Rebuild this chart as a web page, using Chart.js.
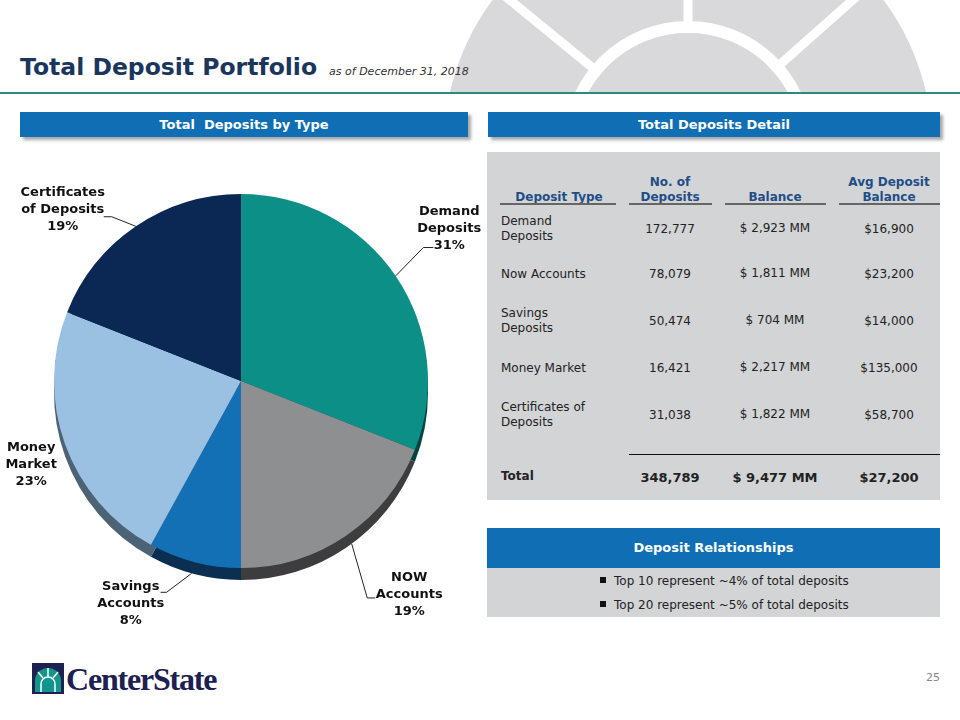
<!DOCTYPE html>
<html>
<head>
<meta charset="utf-8">
<script src="https://cdn.jsdelivr.net/npm/chart.js@4"></script>
<style>
body { margin: 0; background: #fff; font-family: "DejaVu Sans", Verdana, sans-serif; }
#slide { position: relative; width: 960px; height: 720px; overflow: hidden; background: #fff; }
.abs { position: absolute; }
#title { left: 20px; top: 53px; font-size: 23.5px; font-weight: bold; color: #1b365d; white-space: nowrap; }
#title span { font-size: 11px; font-weight: normal; font-style: italic; color: #333; margin-left: 12px; }
#rule { left: 0; top: 92px; width: 960px; height: 2px; background: #2b8a88; }
.bar { height: 25px; line-height: 25px; background: #0f6eb4; color: #fff; font-weight: bold; font-size: 13px; text-align: center; box-shadow: 3px 3px 3px rgba(0,0,0,0.35); white-space: pre; }
#detail { left: 487px; top: 152px; width: 453px; height: 348px; background: #d3d4d6; }
.cell { position: absolute; font-size: 12px; color: #222; line-height: 15px; }
.hd { color: #1f4e86; font-weight: bold; text-align: center; }
.ul { position: absolute; height: 2px; background: #666; top: 51px; }
#rel { left: 487px; top: 528px; width: 453px; height: 89px; background: #d3d4d6; }
#relHead { left: 0; top: 0; width: 453px; height: 40px; line-height: 40px; background: #0f6eb4; color: #fff; font-weight: bold; font-size: 13px; text-align: center; }
.bullet { position: absolute; left: 113px; font-size: 12px; color: #222; }
.bullet::before { content: ""; display: inline-block; width: 6px; height: 6px; background: #111; margin-right: 8px; vertical-align: 2px; }
#logoText { left: 66px; top: 661px; font-family: "Liberation Serif", serif; font-weight: bold; font-size: 32px; letter-spacing: -1.2px; color: #1c2152; }
#page { left: 926px; top: 671px; font-size: 11px; color: #888; }
#pieWrap { left: 0; top: 140px; width: 482px; height: 520px; }
</style>
</head>
<body>
<div id="slide">
  <svg class="abs" style="left:0;top:0" width="960" height="92">
    <circle cx="688" cy="146" r="244" fill="#d9d9db"/>
    <g stroke="#fff" stroke-width="9">
      <line x1="688" y1="146" x2="688" y2="-120"/>
      <line x1="688" y1="146" x2="450" y2="-49"/>
      <line x1="688" y1="146" x2="926" y2="-65"/>
    </g>
    <circle cx="688" cy="146" r="119" fill="none" stroke="#fff" stroke-width="12"/>
    <circle cx="688" cy="146" r="113" fill="#d9d9db"/>
  </svg>
  <div id="title" class="abs">Total Deposit Portfolio<span>as of December 31, 2018</span></div>
  <div id="rule" class="abs"></div>

  <div class="abs bar" style="left:20px;top:112px;width:448px;">Total  Deposits by Type</div>
  <div class="abs bar" style="left:488px;top:112px;width:452px;">Total Deposits Detail</div>

  <div id="pieWrap" class="abs"><canvas id="pieChart" width="482" height="520"></canvas></div>

  <div id="detail" class="abs"></div>

  <div id="rel" class="abs">
    <div id="relHead" class="abs">Deposit Relationships</div>
    <div class="bullet" style="top:46px;">Top 10 represent ~4% of total deposits</div>
    <div class="bullet" style="top:70px;">Top 20 represent ~5% of total deposits</div>
  </div>

  <svg class="abs" style="left:32px;top:663px" width="32" height="31">
    <rect x="0" y="0" width="32" height="31" fill="#1c2152"/>
    <path d="M3 29 L3 18 A13 13 0 0 1 29 18 L29 29 Z" fill="#12968c"/>
    <g stroke="#fff" stroke-width="1.5" fill="none">
      <path d="M9 29 L9 21 A7 7 0 0 1 23 21 L23 29"/>
      <line x1="16" y1="5" x2="16" y2="14"/>
      <line x1="6" y1="9" x2="11" y2="15"/>
      <line x1="26" y1="9" x2="21" y2="15"/>
    </g>
  </svg>
  <div id="logoText" class="abs">CenterState</div>
  <div id="page" class="abs">25</div>
</div>

<script>
// pie data
const categories = ['Demand Deposits', 'NOW Accounts', 'Savings Accounts', 'Money Market', 'Certificates of Deposits'];
const shares = [31, 19, 8, 23, 19];
const labelLines = [
    ['Demand', 'Deposits', '31%'],
    ['NOW', 'Accounts', '19%'],
    ['Savings', 'Accounts', '8%'],
    ['Money', 'Market', '23%'],
    ['Certificates', 'of Deposits', '19%']
];

// table data
const depositTypes = [['Demand', 'Deposits'], ['Now Accounts'], ['Savings', 'Deposits'], ['Money Market'], ['Certificates of', 'Deposits']];
const depositCounts = ['172,777', '78,079', '50,474', '16,421', '31,038'];
const balances = ['$ 2,923 MM', '$ 1,811 MM', '$ 704 MM', '$ 2,217 MM', '$ 1,822 MM'];
const avgBalances = ['$16,900', '$23,200', '$14,000', '$135,000', '$58,700'];
const totals = ['Total', '348,789', '$ 9,477 MM', '$27,200'];

const topColors = ['#0b8f87', '#8e8f91', '#1470b4', '#9bc1e2', '#0b2855'];
const sideColors = ['#05443f', '#3d3d3f', '#0a2f50', '#4c6275', '#081c3c'];
const depth = 12;

// label placement: angle nudge (deg), distance from centre, leader elbow
const labelLayout = [
    { da: -2, dist: 258, leader: { da: -2, dist: 226, stub: 10 } },
    { da: -4, dist: 272, leader: { da: 4, dist: 251, stub: 8 } },
    { da: 12, dist: 248, leader: { da: 5, dist: 224, stub: -6 } },
    { da: -2, dist: 226, leader: null },
    { da: -12, dist: 247, leader: { da: -4, dist: 209, stub: -8 } }
];

function buildTable() {
    const box = document.getElementById('detail');
    const cols = [72, 183, 288, 402]; // centre x of columns
    const heads = [['Deposit Type'], ['No. of', 'Deposits'], ['Balance'], ['Avg Deposit', 'Balance']];
    const lines = [[13, 129], [142, 225], [238, 339], [352, 453]];
    heads.forEach((h, i) => {
        const d = document.createElement('div');
        d.className = 'cell hd';
        d.style.left = (cols[i] - 60) + 'px';
        d.style.width = '120px';
        d.style.top = (h.length === 2 ? 23 : 38) + 'px';
        d.innerHTML = h.join('<br>');
        box.appendChild(d);
        const u = document.createElement('div');
        u.className = 'ul';
        u.style.left = lines[i][0] + 'px';
        u.style.width = (lines[i][1] - lines[i][0]) + 'px';
        box.appendChild(u);
    });
    const rowY = [77, 122, 169, 216, 263];
    depositTypes.forEach((t, r) => {
        const name = document.createElement('div');
        name.className = 'cell';
        name.style.left = '14px';
        name.style.top = (rowY[r] - (t.length === 2 ? 15 : 7)) + 'px';
        name.innerHTML = t.join('<br>');
        box.appendChild(name);
        [depositCounts[r], balances[r], avgBalances[r]].forEach((v, c) => {
            const d = document.createElement('div');
            d.className = 'cell';
            d.style.left = (cols[c + 1] - 60) + 'px';
            d.style.width = '120px';
            d.style.textAlign = 'center';
            d.style.top = (rowY[r] - 7 + (c === 1 ? -1 : 0)) + 'px';
            d.textContent = v;
            box.appendChild(d);
        });
    });
    const line = document.createElement('div');
    line.style.cssText = 'position:absolute;left:142px;width:311px;top:302px;height:1px;background:#111;';
    box.appendChild(line);
    totals.forEach((v, c) => {
        const d = document.createElement('div');
        d.className = 'cell';
        d.style.fontWeight = 'bold';
        d.style.top = (c === 0 ? 317 : 318) + 'px';
        if (c === 0) {
            d.style.left = '14px';
        } else {
            d.style.left = (cols[c] - 60) + 'px';
            d.style.width = '120px';
            d.style.textAlign = 'center';
            d.style.fontSize = '13px';
        }
        d.textContent = v;
        box.appendChild(d);
    });
}

const sidePlugin = {
    id: 'side3d',
    beforeDatasetsDraw(chart) {
        const ctx = chart.ctx;
        chart.getDatasetMeta(0).data.forEach((arc, i) => {
            const p = arc.getProps(['x', 'y', 'startAngle', 'endAngle', 'outerRadius'], true);
            ctx.save();
            ctx.fillStyle = sideColors[i];
            ctx.beginPath();
            ctx.moveTo(p.x, p.y + depth);
            ctx.arc(p.x, p.y + depth, p.outerRadius, p.startAngle, p.endAngle);
            ctx.closePath();
            ctx.fill();
            ctx.restore();
        });
    }
};

const labelPlugin = {
    id: 'pieLabels',
    afterDatasetsDraw(chart) {
        const ctx = chart.ctx;
        chart.getDatasetMeta(0).data.forEach((arc, i) => {
            const p = arc.getProps(['x', 'y', 'startAngle', 'endAngle', 'outerRadius'], true);
            const mid = (p.startAngle + p.endAngle) / 2;
            const lay = labelLayout[i];
            ctx.save();
            if (lay.leader) {
                const r0 = p.outerRadius + depth * Math.max(0, Math.sin(mid));
                const ea = mid + lay.leader.da * Math.PI / 180;
                const ex = p.x + lay.leader.dist * Math.cos(ea);
                const ey = p.y + lay.leader.dist * Math.sin(ea);
                ctx.strokeStyle = '#222';
                ctx.lineWidth = 1;
                ctx.beginPath();
                ctx.moveTo(p.x + r0 * Math.cos(mid), p.y + r0 * Math.sin(mid));
                ctx.lineTo(ex, ey);
                ctx.lineTo(ex + lay.leader.stub, ey);
                ctx.stroke();
            }
            const la = mid + lay.da * Math.PI / 180;
            const lx = p.x + lay.dist * Math.cos(la);
            const ly = p.y + lay.dist * Math.sin(la);
            ctx.fillStyle = '#111';
            ctx.font = 'bold 13px "DejaVu Sans"';
            ctx.textAlign = 'center';
            ctx.textBaseline = 'middle';
            labelLines[i].forEach((t, k) => ctx.fillText(t, lx, ly + (k - 1) * 17));
            ctx.restore();
        });
    }
};

function createPieChart() {
    const ctx = document.getElementById('pieChart').getContext('2d');
    new Chart(ctx, {
        type: 'pie',
        data: {
            labels: categories,
            datasets: [{
                data: shares,
                backgroundColor: topColors,
                borderWidth: 0
            }]
        },
        options: {
            responsive: false,
            animation: false,
            layout: { padding: { top: 54, bottom: 92, left: 54, right: 54 } },
            plugins: { legend: { display: false }, tooltip: { enabled: false } }
        },
        plugins: [sidePlugin, labelPlugin]
    });
}

buildTable();
createPieChart();
</script>
</body>
</html>
